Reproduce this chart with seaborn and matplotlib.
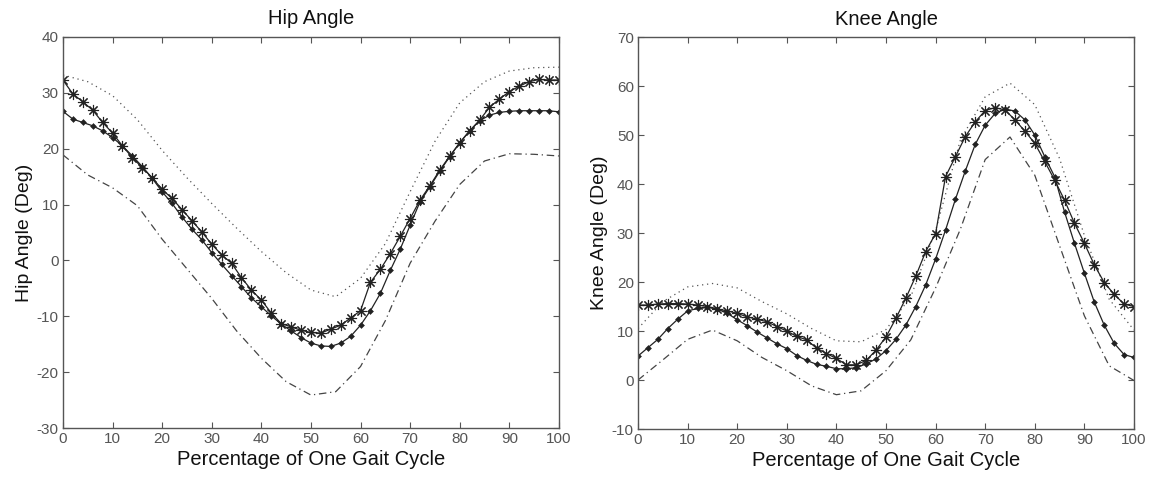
import numpy as np
import pandas as pd
import matplotlib
matplotlib.use('Agg')
import matplotlib.pyplot as plt
import seaborn as sns

# ---------------------------------------------------------------
# data (percentage of gait cycle -> degrees)
# ---------------------------------------------------------------
pct_fine = list(range(0, 101, 2))      # marker series, every 2 %
pct_coarse = list(range(0, 101, 5))    # band lines, every 5 %

hip_star = [32.3, 29.8, 28.4, 26.9, 24.7, 22.8, 20.5, 18.4, 16.6, 14.8,
            12.7, 11.1, 9.1, 7.1, 5.1, 2.9, 1.0, -0.5, -3.1, -5.3,
            -7.1, -9.4, -11.3, -11.9, -12.5, -12.9, -13.0, -12.3, -11.6, -10.3,
            -9.0, -3.9, -1.6, 1.2, 4.3, 7.5, 10.8, 13.4, 16.2, 18.7,
            21.0, 23.2, 25.1, 27.4, 28.9, 30.2, 31.2, 32.0, 32.4, 32.3, 32.3]
hip_dot = [26.7, 25.3, 24.7, 24.1, 23.2, 22.0, 20.5, 18.7, 16.8, 14.7,
           12.3, 10.2, 7.8, 5.6, 3.7, 1.4, -0.7, -2.7, -4.7, -6.7,
           -8.3, -9.9, -11.4, -12.6, -13.8, -14.8, -15.3, -15.4, -14.8, -13.6,
           -11.6, -9.0, -5.9, -1.8, 2.0, 6.3, 10.5, 13.2, 16.0, 18.6,
           21.1, 23.2, 25.0, 26.0, 26.5, 26.7, 26.8, 26.8, 26.8, 26.8, 26.6]
hip_upper = [33.2, 32.0, 29.5, 25.2, 19.7, 14.8, 10.2, 5.8, 1.6, -2.2,
             -5.3, -6.5, -3.2, 3.0, 12.3, 21.3, 28.2, 32.0, 33.9, 34.5, 34.6]
hip_lower = [18.9, 15.3, 13.0, 9.8, 3.8, -1.5, -6.8, -12.6, -17.5, -21.7,
             -24.1, -23.5, -19.0, -10.8, -0.5, 7.0, 13.6, 17.8, 19.1, 19.0, 18.7]

knee_star = [15.3, 15.3, 15.5, 15.6, 15.6, 15.5, 15.3, 15.0, 14.5, 14.1,
             13.6, 12.9, 12.4, 11.9, 10.9, 10.0, 8.9, 8.2, 6.5, 5.4,
             4.4, 3.1, 3.1, 4.0, 6.1, 8.8, 12.6, 16.7, 21.2, 26.2,
             29.9, 41.5, 45.6, 49.7, 52.7, 55.0, 55.6, 55.1, 53.1, 50.8,
             48.3, 44.6, 40.8, 36.7, 32.0, 27.9, 23.5, 19.9, 17.5, 15.5, 15.0]
knee_dot = [4.9, 6.6, 8.3, 10.5, 12.4, 14.1, 14.6, 14.8, 14.5, 13.6,
            12.3, 11.1, 9.8, 8.6, 7.4, 6.4, 5.0, 4.0, 3.2, 2.8,
            2.3, 2.3, 2.5, 3.3, 4.3, 6.0, 8.3, 11.2, 15.0, 19.4,
            24.7, 30.6, 36.9, 42.7, 48.1, 52.0, 54.4, 55.3, 54.9, 53.1,
            50.0, 45.6, 41.5, 34.3, 27.9, 21.8, 15.9, 11.2, 7.5, 5.2, 4.6]
knee_upper = [10.5, 16.0, 19.0, 19.7, 18.8, 16.0, 13.5, 10.5, 8.0, 7.8,
              10.3, 17.0, 30.5, 49.0, 57.8, 60.6, 56.2, 45.2, 29.5, 16.5, 10.2]
knee_lower = [0.0, 4.1, 8.3, 10.2, 8.0, 4.6, 1.9, -1.2, -3.0, -2.2,
              1.9, 8.2, 18.8, 30.8, 45.0, 49.6, 41.8, 27.4, 13.1, 2.9, -0.1]

titles = ['Hip Angle', 'Knee Angle']
ylabels = ['Hip Angle (Deg)', 'Knee Angle (Deg)']
xlabel = 'Percentage of One Gait Cycle'
ylims = [(-30, 40), (-10, 70)]

sns.set_style('white')
plt.rcParams['font.family'] = ['Liberation Sans', 'DejaVu Sans']
plt.rcParams['axes.unicode_minus'] = False
plt.rcParams['xtick.direction'] = 'in'
plt.rcParams['ytick.direction'] = 'in'

fig = plt.figure(figsize=(11.55, 4.78), dpi=100)
ax_hip = fig.add_axes([0.0545, 0.1046, 0.4294, 0.818])
ax_knee = fig.add_axes([0.5524, 0.1025, 0.4294, 0.820])

panels = [
    (ax_hip, hip_star, hip_dot, hip_upper, hip_lower),
    (ax_knee, knee_star, knee_dot, knee_upper, knee_lower),
]

line_col = '#222222'
for i, (ax, star, dot, upper, lower) in enumerate(panels):
    sns.lineplot(x=pct_coarse, y=upper, ax=ax, color='#555555',
                 linestyle=(0, (1, 3)), linewidth=0.9)
    sns.lineplot(x=pct_coarse, y=lower, ax=ax, color='#444444',
                 linestyle=(0, (6, 3, 1, 3)), linewidth=0.9)
    sns.lineplot(x=pct_fine, y=dot, ax=ax, color=line_col, linewidth=0.9,
                 marker='D', markersize=3.0, markeredgewidth=0.4,
                 markerfacecolor=line_col, markeredgecolor=line_col)
    sns.lineplot(x=pct_fine, y=star, ax=ax, color=line_col, linewidth=0.9,
                 marker=(8, 2, 0), markersize=8, markeredgewidth=0.8,
                 markeredgecolor=line_col)

    ax.set_xlim(0, 100)
    ax.set_ylim(*ylims[i])
    ax.set_xticks(range(0, 101, 10))
    ax.set_yticks(range(ylims[i][0], ylims[i][1] + 1, 10))
    ax.tick_params(axis='both', which='both', direction='in', length=4,
                   width=0.8, color='#555555', labelsize=11,
                   labelcolor='#555555', top=True, right=True,
                   bottom=True, left=True, pad=3)
    for side in ax.spines.values():
        side.set_visible(True)
        side.set_color('#555555')
        side.set_linewidth(1.0)
    ax.set_title(titles[i], fontsize=14.5, color='#111111', pad=9)
    ax.set_xlabel(xlabel, fontsize=14.5, color='#111111', labelpad=3)
    ax.set_ylabel(ylabels[i], fontsize=14, color='#111111', labelpad=3)
    ax.set_facecolor('white')

fig.savefig('out.png', dpi=100, facecolor='white')
